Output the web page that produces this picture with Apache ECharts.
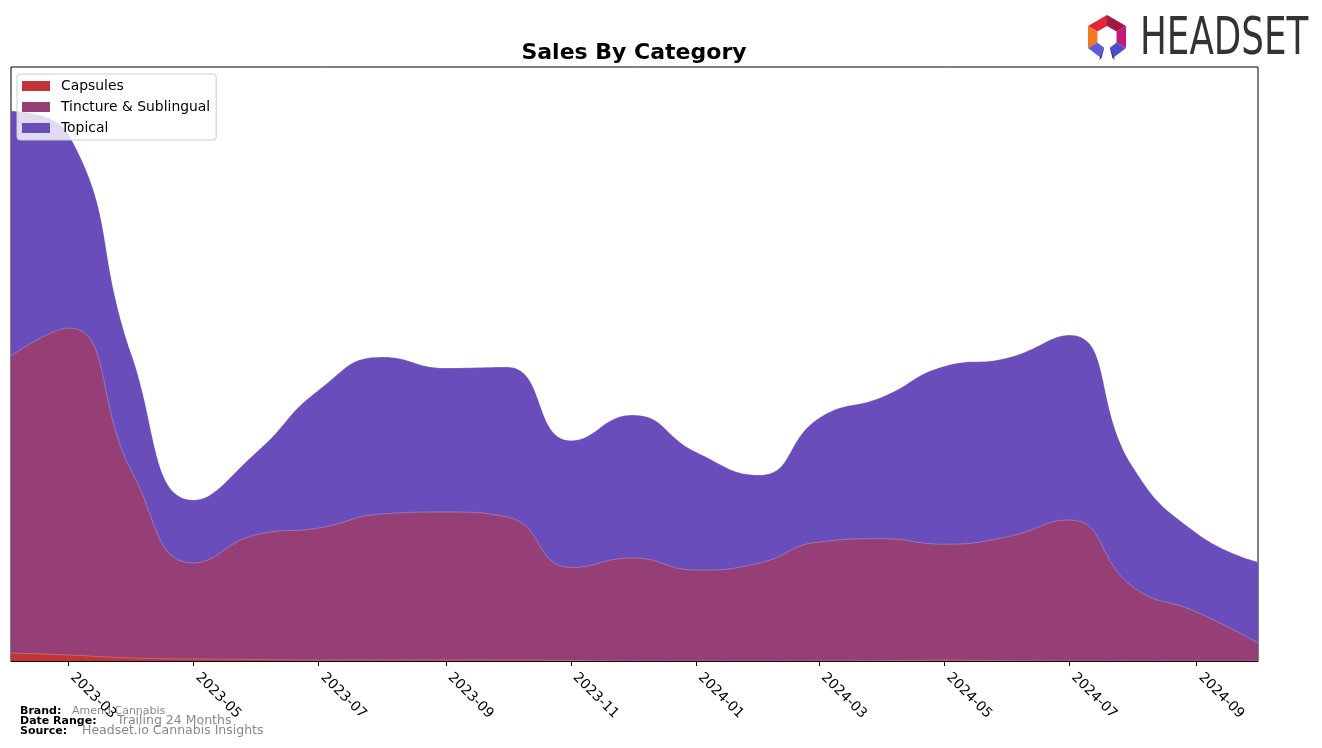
<!DOCTYPE html>
<html><head><meta charset="utf-8">
<script src="https://cdn.jsdelivr.net/npm/echarts@6/dist/echarts.min.js"></script>
<style>html,body{margin:0;padding:0;background:#fff}#c{width:1322px;height:748px}</style>
</head><body><div id="c"></div>
<script>
// ---- data (arbitrary sales units) ----
const months = ['2023-02','2023-03','2023-04','2023-05','2023-06','2023-07','2023-08','2023-09','2023-10','2023-11','2023-12',
                '2024-01','2024-02','2024-03','2024-04','2024-05','2024-06','2024-07','2024-08','2024-09','2024-10'];
const capsules = [8, 6, 3, 2, 1.5, 1, 1, 1, 1, 0.5, 0, 0, 0, 0, 0.3, 0.8, 0.3, 0, 0, 0, 0];
const tincture = [297, 327, 186, 96, 125, 132, 146, 148, 143, 93, 103, 91, 98, 119, 122, 116, 124, 141, 74, 49, 18];
const topical  = [245, 194, 116, 63, 83, 138, 157, 144, 150, 127, 143, 118, 88, 124, 142, 178, 179, 185, 120, 79, 81];
const tickMonths = ['2023-03','2023-05','2023-07','2023-09','2023-11','2024-01','2024-03','2024-05','2024-07','2024-09'];
const seriesNames = ['Capsules', 'Tincture & Sublingual', 'Topical'];
const colors = ['#C23435', '#963F76', '#694EBB'];

function ms(m) { const p = m.split('-'); return Date.UTC(+p[0], +p[1] - 1, 1); }
function fmt(v) { const d = new Date(v); return d.getUTCFullYear() + '-' + String(d.getUTCMonth() + 1).padStart(2, '0'); }
const tickMs = tickMonths.map(ms);
const values = [capsules, tincture, topical];
// cumulative (stacked) tops, built from the arrays above
const cum = values.map((_, i) => months.map((m, k) => {
  let s = 0; for (let j = 0; j <= i; j++) s += values[j][k]; return s;
}));

const chart = echarts.init(document.getElementById('c'), null, { renderer: 'canvas' });

// logo polygons
const cx = 1107, cy = 37, R = 22, r = 11;
function pt(rad, deg) { const a = deg * Math.PI / 180; return [cx + rad * Math.cos(a), cy + rad * Math.sin(a)]; }
function seg(a1, a2, color) {
  return { type: 'polygon', shape: { points: [pt(R, a1), pt(R, a2), pt(r, a2), pt(r, a1)] }, style: { fill: color } };
}
const logo = [
  seg(-150, -90, '#E1263B'),
  seg(-90, -30, '#A3183E'),
  seg(-30, 30, '#C3187D'),
  seg(150, 210, '#F47A20'),
  seg(30, 75, '#4B4FC9'),
  seg(105, 150, '#5B60D8'),
  { type: 'polygon', shape: { points: [pt(R, 75), pt(r, 75), [cx + 8, cy + 23]] }, style: { fill: '#2D3190' } },
  { type: 'polygon', shape: { points: [pt(R, 105), pt(r, 105), [cx - 8, cy + 23]] }, style: { fill: '#2D3190' } }
];

const font = 'DejaVu Sans';
const series = [];
for (let i = seriesNames.length - 1; i >= 0; i--) {
  series.push({
    name: seriesNames[i], type: 'line', smooth: 0.5, symbol: 'none',
    z: 2 + (seriesNames.length - i),
    data: months.map((m, k) => [ms(m), cum[i][k]]),
    itemStyle: { color: colors[i] },
    lineStyle: { width: 0.7, color: 'rgba(255,255,255,0.35)' },
    areaStyle: { color: colors[i], opacity: 1 }
  });
}

const option = {
  animation: false,
  backgroundColor: '#fff',
  color: colors,
  grid: { left: 11, right: 64, top: 67, bottom: 87, show: true, borderColor: '#000', borderWidth: 1, backgroundColor: 'transparent' },
  legend: {
    orient: 'vertical', left: 17, top: 74, z: 20,
    padding: [5, 6, 5, 5], itemGap: 7, itemWidth: 28, itemHeight: 10,
    backgroundColor: 'rgba(255,255,255,0.8)', borderColor: '#cccccc', borderWidth: 1, borderRadius: 3,
    icon: 'rect',
    textStyle: { fontFamily: font, fontSize: 13.9, color: '#000', padding: [0, 0, 0, 6] },
    data: seriesNames.map((n, i) => ({ name: n, itemStyle: { color: colors[i] } }))
  },
  xAxis: {
    type: 'value', min: ms(months[0]), max: ms(months[months.length - 1]),
    axisLine: { show: true, lineStyle: { color: '#000', width: 1 } },
    axisTick: { show: true, customValues: tickMs, length: 5, lineStyle: { color: '#000' } },
    axisLabel: { customValues: tickMs, formatter: fmt, rotate: -45, margin: 10, padding: [0, 0, 0, 6], fontFamily: font, fontSize: 13.9, color: '#000' },
    splitLine: { show: false }
  },
  yAxis: {
    type: 'value', min: 0, max: 594,
    axisLabel: { show: false }, axisTick: { show: false }, axisLine: { show: false }, splitLine: { show: false }
  },
  series: series,
  graphic: [
    { type: 'text', x: 634, y: 53, style: { text: 'Sales By Category', font: 'bold 22px "DejaVu Sans"', fill: '#000', textAlign: 'center', textVerticalAlign: 'middle' } },
    { type: 'text', x: 20, y: 711, style: { text: 'Brand:', font: 'bold 11px "DejaVu Sans"', fill: '#000', textVerticalAlign: 'middle' } },
    { type: 'text', x: 72, y: 711, style: { text: 'Amend Cannabis', font: '11px "DejaVu Sans"', fill: '#888888', textVerticalAlign: 'middle' } },
    { type: 'text', x: 20, y: 721, style: { text: 'Date Range:', font: 'bold 11px "DejaVu Sans"', fill: '#000', textVerticalAlign: 'middle' } },
    { type: 'text', x: 117, y: 721, style: { text: 'Trailing 24 Months', font: '12.5px "DejaVu Sans"', fill: '#888888', textVerticalAlign: 'middle' } },
    { type: 'text', x: 20, y: 731, style: { text: 'Source:', font: 'bold 11px "DejaVu Sans"', fill: '#000', textVerticalAlign: 'middle' } },
    { type: 'text', x: 82, y: 731, style: { text: 'Headset.io Cannabis Insights', font: '12.5px "DejaVu Sans"', fill: '#888888', textVerticalAlign: 'middle' } },
    { type: 'text', x: 1140, y: 41, scaleX: 0.7, style: { text: 'HEADSET', font: '51px "DejaVu Sans"', fill: '#333333', textVerticalAlign: 'middle' } }
  ].concat(logo)
};
chart.setOption(option);
</script>
</body></html>
